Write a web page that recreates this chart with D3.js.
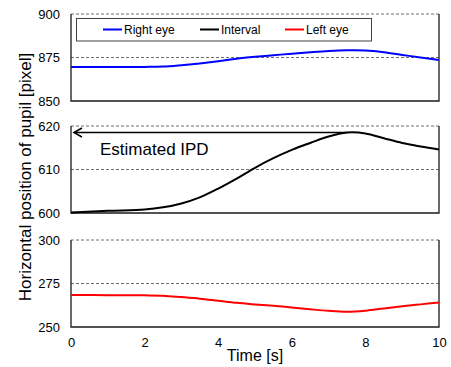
<!DOCTYPE html>
<html>
<head>
<meta charset="utf-8">
<script src="https://cdn.jsdelivr.net/npm/d3@7"></script>
<style>
  html, body { margin: 0; padding: 0; background: #fff; }
  svg { display: block; font-family: "Liberation Sans", Arial, sans-serif; }
</style>
</head>
<body>
<svg id="chart" width="451" height="367"></svg>
<script>
// Time samples (s)
const timeS = [0, 1, 2, 2.5, 3, 3.5, 4, 4.5, 5, 5.5, 6, 6.5, 7, 7.5, 8, 8.5, 9, 9.5, 10];
// Horizontal pupil positions (pixel)
const rightEye = [869.5, 869.5, 869.6, 869.8, 870.6, 871.6, 872.8, 874.3, 875.4, 876.3, 877.2, 878.0, 878.7, 879.1, 879.0, 878.0, 876.5, 875.0, 873.6];
const interval = [600.1, 600.5, 600.8, 601.3, 602.2, 603.6, 605.6, 607.9, 610.4, 612.6, 614.5, 616.1, 617.6, 618.5, 618.3, 617.2, 616.1, 615.3, 614.6];
const leftEye  = [268.4, 268.3, 268.2, 268.0, 267.2, 266.3, 265.1, 263.9, 263.0, 262.2, 261.2, 260.2, 259.3, 258.8, 259.4, 260.7, 261.9, 263.0, 264.1];
// Axis ticks
const xTicks = [0, 2, 4, 6, 8, 10];
const rightTicks = [850, 875, 900];
const intervalTicks = [600, 610, 620];
const leftTicks = [250, 275, 300];
const legendNames = ["Right eye", "Interval", "Left eye"];
const seriesColors = ["#0000ff", "#000000", "#ff0000"];

const svg = d3.select("#chart");
const left = 71, right = 439;
const x = d3.scaleLinear().domain([0, 10]).range([left, right]);

const panels = [
  { values: rightEye, ticks: rightTicks, top: 14, bottom: 101, color: seriesColors[0] },
  { values: interval, ticks: intervalTicks, top: 126, bottom: 213, color: seriesColors[1] },
  { values: leftEye, ticks: leftTicks, top: 240, bottom: 327, color: seriesColors[2] }
];

panels.forEach(p => {
  const y = d3.scaleLinear().domain([p.ticks[0], p.ticks[p.ticks.length - 1]]).range([p.bottom, p.top]);
  p.y = y;
  const g = svg.append("g");

  // dashed gridlines (middle and top)
  g.selectAll("line.grid").data(p.ticks.slice(1)).join("line")
    .attr("x1", left).attr("x2", right)
    .attr("y1", d => y(d)).attr("y2", d => y(d))
    .attr("stroke", "#6e6e6e").attr("stroke-width", 1)
    .attr("stroke-dasharray", "3,2");

  // frame: left, bottom, right
  g.append("path")
    .attr("d", `M${left},${p.top}V${p.bottom}H${right}V${p.top}`)
    .attr("fill", "none").attr("stroke", "#1a1a1a").attr("stroke-width", 1.3);

  // y tick labels
  const yAxis = d3.axisLeft(y).tickValues(p.ticks).tickSize(0).tickPadding(11);
  const ya = g.append("g").attr("transform", `translate(${left},0)`).call(yAxis);
  ya.select(".domain").remove();
  ya.selectAll("text").attr("font-size", 13).attr("fill", "#000")
    .attr("font-family", "Liberation Sans, Arial, sans-serif");

  // series line
  const line = d3.line()
    .x((d, k) => x(timeS[k]))
    .y(d => y(d))
    .curve(d3.curveCatmullRom.alpha(0.5));
  g.append("path").datum(p.values)
    .attr("d", line)
    .attr("fill", "none")
    .attr("stroke", p.color)
    .attr("stroke-width", 2);
});

// x axis labels under bottom panel
const xAxis = d3.axisBottom(x).tickValues(xTicks).tickSize(0).tickPadding(11);
const xa = svg.append("g").attr("transform", `translate(0,${panels[2].bottom})`).call(xAxis);
xa.select(".domain").remove();
xa.selectAll("text").attr("font-size", 13).attr("fill", "#000")
  .attr("font-family", "Liberation Sans, Arial, sans-serif");

svg.append("text")
  .attr("x", 255).attr("y", 361)
  .attr("text-anchor", "middle")
  .attr("font-size", 16).attr("fill", "#000")
  .text("Time [s]");

svg.append("text")
  .attr("transform", "translate(31,177) rotate(-90)")
  .attr("text-anchor", "middle")
  .attr("font-size", 17).attr("fill", "#000")
  .text("Horizontal position of pupil [pixel]");

// Estimated IPD arrow from the interval peak back to the axis
const peakIdx = d3.maxIndex(interval);
const ipdY = panels[1].y(interval[peakIdx]);
const arrowX0 = x(0.08), arrowX1 = x(timeS[peakIdx]);
svg.append("line")
  .attr("x1", arrowX0).attr("x2", arrowX1)
  .attr("y1", ipdY).attr("y2", ipdY)
  .attr("stroke", "#000").attr("stroke-width", 1.5);
svg.append("path")
  .attr("d", `M${arrowX0 + 8},${ipdY - 4.5}L${arrowX0},${ipdY}L${arrowX0 + 8},${ipdY + 4.5}`)
  .attr("fill", "none").attr("stroke", "#000").attr("stroke-width", 1.5);
svg.append("text")
  .attr("x", 100).attr("y", 155)
  .attr("font-size", 17).attr("fill", "#000")
  .text("Estimated IPD");

// legend
const lg = svg.append("g");
lg.append("rect")
  .attr("x", 76.5).attr("y", 18.5).attr("width", 295).attr("height", 22.5)
  .attr("fill", "#fff").attr("stroke", "#404040").attr("stroke-width", 1);
const legendX = [103, 200, 285];
legendNames.forEach((name, i) => {
  lg.append("line")
    .attr("x1", legendX[i]).attr("x2", legendX[i] + 19)
    .attr("y1", 29.5).attr("y2", 29.5)
    .attr("stroke", seriesColors[i]).attr("stroke-width", 2);
  lg.append("text")
    .attr("x", legendX[i] + 21).attr("y", 34)
    .attr("font-size", 12).attr("fill", "#000")
    .text(name);
});
</script>
</body>
</html>
